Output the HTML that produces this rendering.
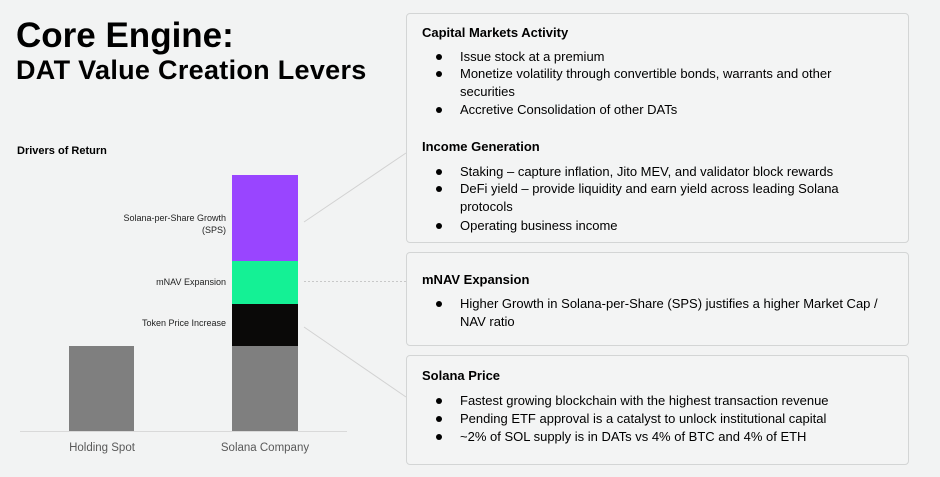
<!DOCTYPE html>
<html><head><meta charset="utf-8"><style>
*{margin:0;padding:0;box-sizing:border-box}
body{width:940px;height:477px;background:#f2f3f3;position:relative;overflow:hidden;font-family:"Liberation Sans",sans-serif;color:#000}
.a{position:absolute;white-space:nowrap}
.box{position:absolute;border:1px solid #d3d5d5;border-radius:4px;background:#f3f4f4}
.h{position:absolute;font-weight:bold;font-size:13px;line-height:18px;left:422px;white-space:nowrap}
.t{position:absolute;font-size:13px;line-height:18px;left:460px;white-space:nowrap}
.d{position:absolute;left:436px;width:6px;height:6px;border-radius:50%;background:#000}
.lbl{position:absolute;font-size:9px;line-height:12px;color:#222;text-align:right;right:714px;white-space:nowrap}
</style></head><body>
<div class="a" style="left:16px;top:18px;font-size:35px;line-height:35px;font-weight:bold">Core Engine:</div>
<div class="a" style="left:16px;top:57px;font-size:27px;line-height:27px;font-weight:bold;letter-spacing:0.3px">DAT Value Creation Levers</div>
<div class="a" style="left:17px;top:144px;font-size:11px;line-height:14px;font-weight:bold">Drivers of Return</div>

<svg class="a" style="left:0;top:0" width="940" height="477">
<line x1="20" y1="431.5" x2="347" y2="431.5" stroke="#d9d9d9" stroke-width="1"/>
<rect x="69" y="346" width="65" height="85" fill="#7f7f7f"/>
<rect x="232" y="346" width="66" height="85" fill="#7f7f7f"/>
<rect x="232" y="304" width="66" height="42" fill="#0a0908"/>
<rect x="232" y="261" width="66" height="43" fill="#14f195"/>
<rect x="232" y="175" width="66" height="86" fill="#9945ff"/>
<line x1="304" y1="222" x2="406" y2="153" stroke="#d2d2d2" stroke-width="1"/>
<line x1="304" y1="281.5" x2="406" y2="281.5" stroke="#c8c8c8" stroke-width="1" stroke-dasharray="2,2"/>
<line x1="304" y1="327" x2="406" y2="397" stroke="#d2d2d2" stroke-width="1"/>
</svg>

<div class="lbl" style="top:212px">Solana-per-Share Growth</div>
<div class="lbl" style="top:224px">(SPS)</div>
<div class="lbl" style="top:276px">mNAV Expansion</div>
<div class="lbl" style="top:317px">Token Price Increase</div>
<div class="a" style="left:52px;width:100px;text-align:center;top:441px;font-size:11.5px;line-height:14px;color:#595959">Holding Spot</div>
<div class="a" style="left:205px;width:120px;text-align:center;top:441px;font-size:11.5px;line-height:14px;color:#595959">Solana Company</div>

<div class="box" style="left:406px;top:13px;width:503px;height:230px"></div>
<div class="box" style="left:406px;top:252px;width:503px;height:94px"></div>
<div class="box" style="left:406px;top:355px;width:503px;height:110px"></div>

<div class="h" style="top:24px">Capital Markets Activity</div>
<div class="d" style="top:54px"></div><div class="t" style="top:48px">Issue stock at a premium</div>
<div class="d" style="top:71px"></div><div class="t" style="top:65px">Monetize volatility through convertible bonds, warrants and other</div>
<div class="t" style="top:83px">securities</div>
<div class="d" style="top:107px"></div><div class="t" style="top:101px">Accretive Consolidation of other DATs</div>

<div class="h" style="top:138px">Income Generation</div>
<div class="d" style="top:169px"></div><div class="t" style="top:163px">Staking – capture inflation, Jito MEV, and validator block rewards</div>
<div class="d" style="top:186px"></div><div class="t" style="top:180px">DeFi yield – provide liquidity and earn yield across leading Solana</div>
<div class="t" style="top:198px">protocols</div>
<div class="d" style="top:223px"></div><div class="t" style="top:217px">Operating business income</div>

<div class="h" style="top:271px">mNAV Expansion</div>
<div class="d" style="top:301px"></div><div class="t" style="top:295px">Higher Growth in Solana-per-Share (SPS) justifies a higher Market Cap /</div>
<div class="t" style="top:313px">NAV ratio</div>

<div class="h" style="top:367px">Solana Price</div>
<div class="d" style="top:398px"></div><div class="t" style="top:392px">Fastest growing blockchain with the highest transaction revenue</div>
<div class="d" style="top:416px"></div><div class="t" style="top:410px">Pending ETF approval is a catalyst to unlock institutional capital</div>
<div class="d" style="top:434px"></div><div class="t" style="top:428px">~2% of SOL supply is in DATs vs 4% of BTC and 4% of ETH</div>
</body></html>
